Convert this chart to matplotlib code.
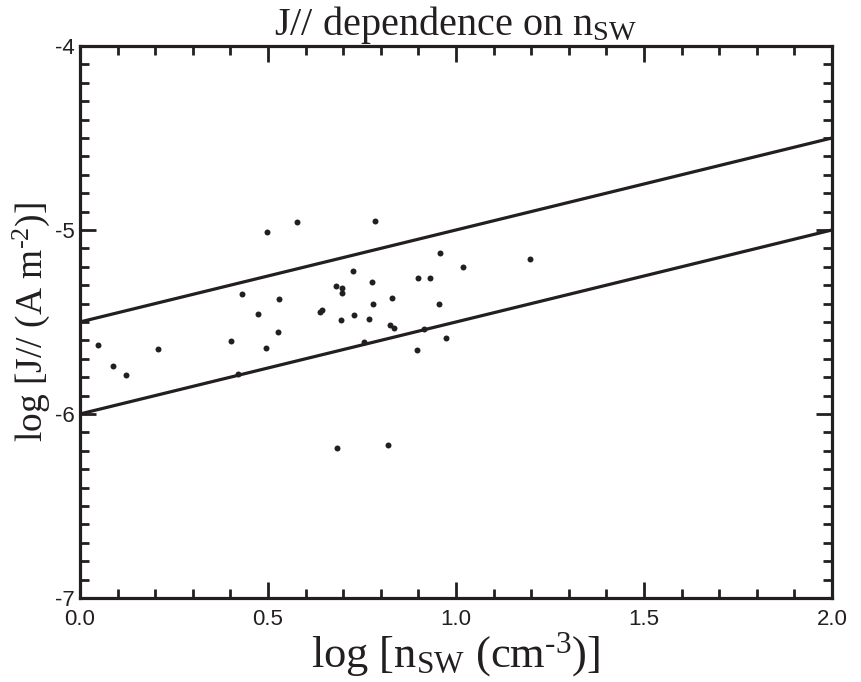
import matplotlib
matplotlib.use("Agg")
import matplotlib.pyplot as plt
import numpy as np

# === DATA ===
log_n = [0.047, 0.087, 0.123, 0.207, 0.402, 0.419, 0.430, 0.474, 0.496, 0.497,
         0.526, 0.528, 0.576, 0.639, 0.644, 0.682, 0.696, 0.696, 0.694, 0.728,
         0.727, 0.755, 0.769, 0.777, 0.778, 0.784, 0.825, 0.835, 0.831, 0.683,
         0.818, 0.896, 0.900, 0.914, 0.931, 0.955, 0.958, 0.973, 1.019, 1.197]
log_j = [-5.625, -5.739, -5.786, -5.648, -5.605, -5.785, -5.349, -5.458, -5.640, -5.009,
         -5.554, -5.373, -4.957, -5.444, -5.435, -5.306, -5.317, -5.341, -5.489, -5.460,
         -5.223, -5.609, -5.484, -5.284, -5.400, -4.951, -5.518, -5.531, -5.368, -6.183,
         -6.170, -5.650, -5.263, -5.540, -5.261, -5.400, -5.123, -5.587, -5.201, -5.156]

# boundary lines: log J = slope * log n + intercept
line_x = [0.0, 2.0]
slope = 0.5
intercepts = [-5.5, -6.0]

x_ticks = [0.0, 0.5, 1.0, 1.5, 2.0]
x_tick_labels = ["0.0", "0.5", "1.0", "1.5", "2.0"]
y_ticks = [-7, -6, -5, -4]
y_tick_labels = ["-7", "-6", "-5", "-4"]

# === STYLE ===
plt.rcParams["font.family"] = ["Liberation Sans", "DejaVu Sans"]
plt.rcParams["mathtext.fontset"] = "custom"
plt.rcParams["mathtext.rm"] = "Liberation Serif"
plt.rcParams["mathtext.it"] = "Liberation Serif:italic"
plt.rcParams["axes.unicode_minus"] = False

serif = ["Liberation Serif", "DejaVu Serif"]
ink = "#231f20"

# === PLOT ===
fig = plt.figure(figsize=(8.62, 6.82), dpi=100)
ax = fig.add_axes([0.0928, 0.1232, 0.8724, 0.8094])

for b in intercepts:
    ax.plot(line_x, [slope * x + b for x in line_x], color=ink, lw=2.3,
            solid_capstyle="butt", clip_on=False)

ax.plot(log_n, log_j, "o", color=ink, markersize=4.3, markeredgewidth=0)

ax.set_xlim(0, 2)
ax.set_ylim(-7, -4)
ax.set_xticks(x_ticks)
ax.set_xticklabels(x_tick_labels)
ax.set_yticks(y_ticks)
ax.set_yticklabels(y_tick_labels)
ax.set_xticks(np.arange(0, 2.001, 0.1), minor=True)
ax.set_yticks(np.arange(-7, -3.999, 0.1), minor=True)

ax.tick_params(which="both", direction="in", top=True, right=True,
               width=2.0, color=ink, labelsize=16, labelcolor=ink)
ax.tick_params(which="major", length=11.5)
ax.tick_params(which="minor", length=6.5)
ax.tick_params(axis="x", which="major", pad=8)
ax.tick_params(axis="y", which="major", pad=4)

for s in ax.spines.values():
    s.set_linewidth(2.3)
    s.set_color(ink)

ax.set_title(r"J// dependence on n$_{\rm SW}$", family=serif, fontsize=29,
             color=ink, pad=5)
ax.set_xlabel(r"log [n$_{\rm SW}$ (cm$^{\text{-3}}$)]", family=serif, fontsize=32,
              color=ink, labelpad=0)
ax.set_ylabel(r"log [J// (A m$^{\text{-2}}$)]", family=serif, fontsize=27,
              color=ink, labelpad=2)

fig.savefig("out.png", dpi=100)
